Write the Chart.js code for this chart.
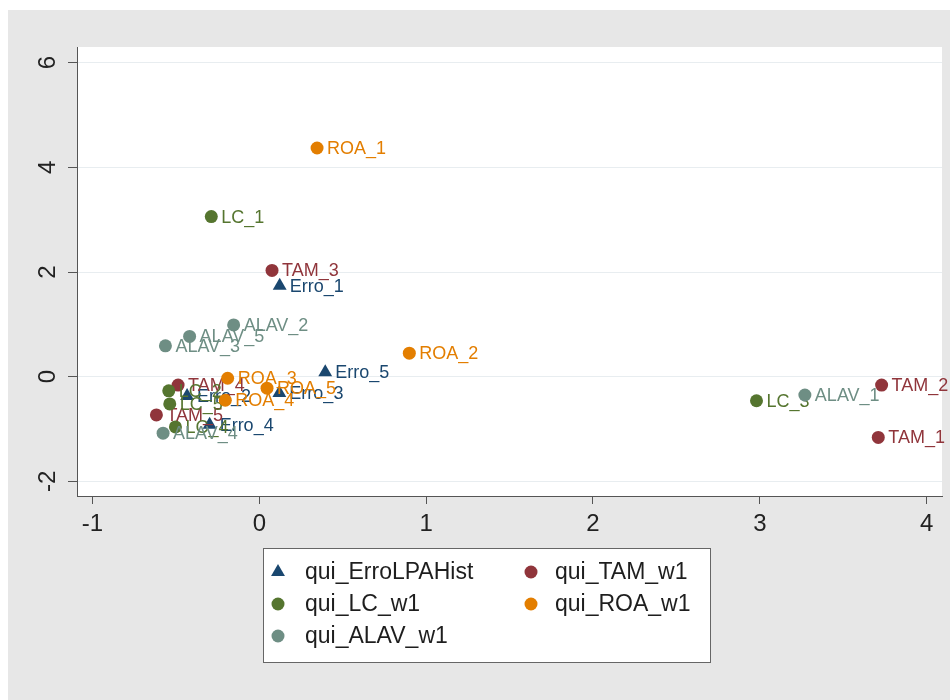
<!DOCTYPE html>
<html>
<head>
<meta charset="utf-8">
<script src="https://cdn.jsdelivr.net/npm/chart.js@4"></script>
<style>
  html, body { margin: 0; padding: 0; background: #ffffff; }
  #wrap { position: absolute; left: 8px; top: 10px; width: 942px; height: 690px; background: #e7e7e7; }
  canvas { display: block; }
</style>
</head>
<body>
<div id="wrap"><canvas id="c" width="942" height="690"></canvas></div>
<script>
// ---- data ----
const seriesNames = ["qui_ErroLPAHist", "qui_TAM_w1", "qui_LC_w1", "qui_ROA_w1", "qui_ALAV_w1"];

const erroLabels = ["Erro_1", "Erro_2", "Erro_3", "Erro_4", "Erro_5"];
const erroX = [0.122, -0.433, 0.12, -0.298, 0.395];
const erroY = [1.74, -0.37, -0.31, -0.917, 0.084];

const tamLabels = ["TAM_1", "TAM_2", "TAM_3", "TAM_4", "TAM_5"];
const tamX = [3.71, 3.73, 0.076, -0.487, -0.617];
const tamY = [-1.16, -0.16, 2.03, -0.16, -0.73];

const lcLabels = ["LC_1", "LC_2", "LC_3", "LC_4", "LC_5"];
const lcX = [-0.288, -0.543, 2.98, -0.503, -0.537];
const lcY = [3.06, -0.27, -0.46, -0.96, -0.52];

const roaLabels = ["ROA_1", "ROA_2", "ROA_3", "ROA_4", "ROA_5"];
const roaX = [0.346, 0.899, -0.19, -0.204, 0.046];
const roaY = [4.37, 0.45, -0.03, -0.45, -0.22];

const alavLabels = ["ALAV_1", "ALAV_2", "ALAV_3", "ALAV_4", "ALAV_5"];
const alavX = [3.27, -0.154, -0.563, -0.577, -0.418];
const alavY = [-0.35, 0.99, 0.59, -1.08, 0.77];

const xTicks = [-1, 0, 1, 2, 3, 4];
const yTicks = [-2, 0, 2, 4, 6];

// ---- styles ----
const colors = ["#1a476f", "#90353b", "#55752f", "#e37e00", "#6e8e84"];
const shapes = ["triangle", "circle", "circle", "circle", "circle"];
const FONT = "'Liberation Sans', Arial, sans-serif";

function pts(xs, ys) { return xs.map((x, i) => ({ x: x, y: ys[i] })); }
const allLabels = [erroLabels, tamLabels, lcLabels, roaLabels, alavLabels];
const allData = [pts(erroX, erroY), pts(tamX, tamY), pts(lcX, lcY), pts(roaX, roaY), pts(alavX, alavY)];

const datasets = seriesNames.map((name, i) => ({
  label: name,
  data: allData[i],
  pointStyle: shapes[i],
  pointRadius: shapes[i] === "triangle" ? 8 : 6.5,
  pointHoverRadius: shapes[i] === "triangle" ? 8 : 6.5,
  pointBackgroundColor: colors[i],
  pointBorderColor: colors[i],
  pointBorderWidth: 0,
  showLine: false,
  order: 5 - i,
  pointLabels: allLabels[i]
}));

const plotBg = {
  id: "plotBg",
  beforeDraw(chart) {
    const { ctx, chartArea: a } = chart;
    ctx.save();
    ctx.fillStyle = "#ffffff";
    ctx.fillRect(a.left, a.top, a.right - a.left, a.bottom - a.top);
    ctx.restore();
  }
};

const markerLabels = {
  id: "markerLabels",
  afterDatasetDraw(chart, args) {
    const ds = chart.data.datasets[args.index];
    const meta = args.meta;
    const ctx = chart.ctx;
    ctx.save();
    ctx.font = "18px " + FONT;
    ctx.fillStyle = ds.pointBackgroundColor;
    ctx.textAlign = "left";
    ctx.textBaseline = "middle";
    meta.data.forEach((el, j) => {
      ctx.fillText(ds.pointLabels[j], el.x + 10, el.y + 1);
    });
    ctx.restore();
  }
};

const boxLegend = {
  id: "boxLegend",
  afterDraw(chart) {
    const ctx = chart.ctx;
    const bx = 255, by = 538, bw = 447, bh = 114;
    ctx.save();
    ctx.fillStyle = "#ffffff";
    ctx.fillRect(bx, by, bw, bh);
    ctx.strokeStyle = "#666666";
    ctx.lineWidth = 1;
    ctx.strokeRect(bx + 0.5, by + 0.5, bw, bh);
    const colX = [270, 523];
    const textX = [297, 547];
    const rowY = [562, 594, 626];
    ctx.font = "23px " + FONT;
    ctx.textBaseline = "middle";
    ctx.textAlign = "left";
    seriesNames.forEach((name, i) => {
      const col = i % 2, row = Math.floor(i / 2);
      const mx = colX[col], my = rowY[row];
      ctx.fillStyle = colors[i];
      ctx.beginPath();
      if (shapes[i] === "triangle") {
        const r = 8;
        ctx.moveTo(mx, my - r);
        ctx.lineTo(mx + r * Math.sin(2 * Math.PI / 3), my + r / 2);
        ctx.lineTo(mx - r * Math.sin(2 * Math.PI / 3), my + r / 2);
        ctx.closePath();
      } else {
        ctx.arc(mx, my, 6.5, 0, Math.PI * 2);
      }
      ctx.fill();
      ctx.fillStyle = "#1e1e1e";
      ctx.fillText(name, textX[col], my + 1);
    });
    ctx.restore();
  }
};

new Chart(document.getElementById("c"), {
  type: "scatter",
  data: { datasets: datasets },
  plugins: [plotBg, markerLabels, boxLegend],
  options: {
    responsive: false,
    animation: false,
    events: [],
    layout: { padding: { left: 0, right: 8, top: 37, bottom: 164 } },
    plugins: { legend: { display: false }, tooltip: { enabled: false } },
    scales: {
      x: {
        type: "linear",
        min: -1.093,
        max: 4.092,
        afterFit(s) { s.height = 40; },
        afterBuildTicks(s) { s.ticks = xTicks.map(v => ({ value: v })); },
        ticks: { font: { family: FONT, size: 24 }, color: "#222222", padding: 6, maxRotation: 0, includeBounds: false },
        grid: { drawOnChartArea: false, drawTicks: true, tickLength: 8, tickColor: "#555555" },
        border: { display: true, color: "#555555", width: 1 }
      },
      y: {
        type: "linear",
        min: -2.28,
        max: 6.30,
        afterFit(s) { s.width = 69; },
        afterBuildTicks(s) { s.ticks = yTicks.map(v => ({ value: v })); },
        ticks: { font: { family: FONT, size: 24 }, color: "#222222", padding: 9, minRotation: 90, maxRotation: 90, crossAlign: "center", includeBounds: false },
        grid: { drawOnChartArea: true, color: "#e8edf0", lineWidth: 1, drawTicks: true, tickLength: 9, tickColor: "#555555" },
        border: { display: true, color: "#555555", width: 1 }
      }
    }
  }
});
</script>
</body>
</html>
